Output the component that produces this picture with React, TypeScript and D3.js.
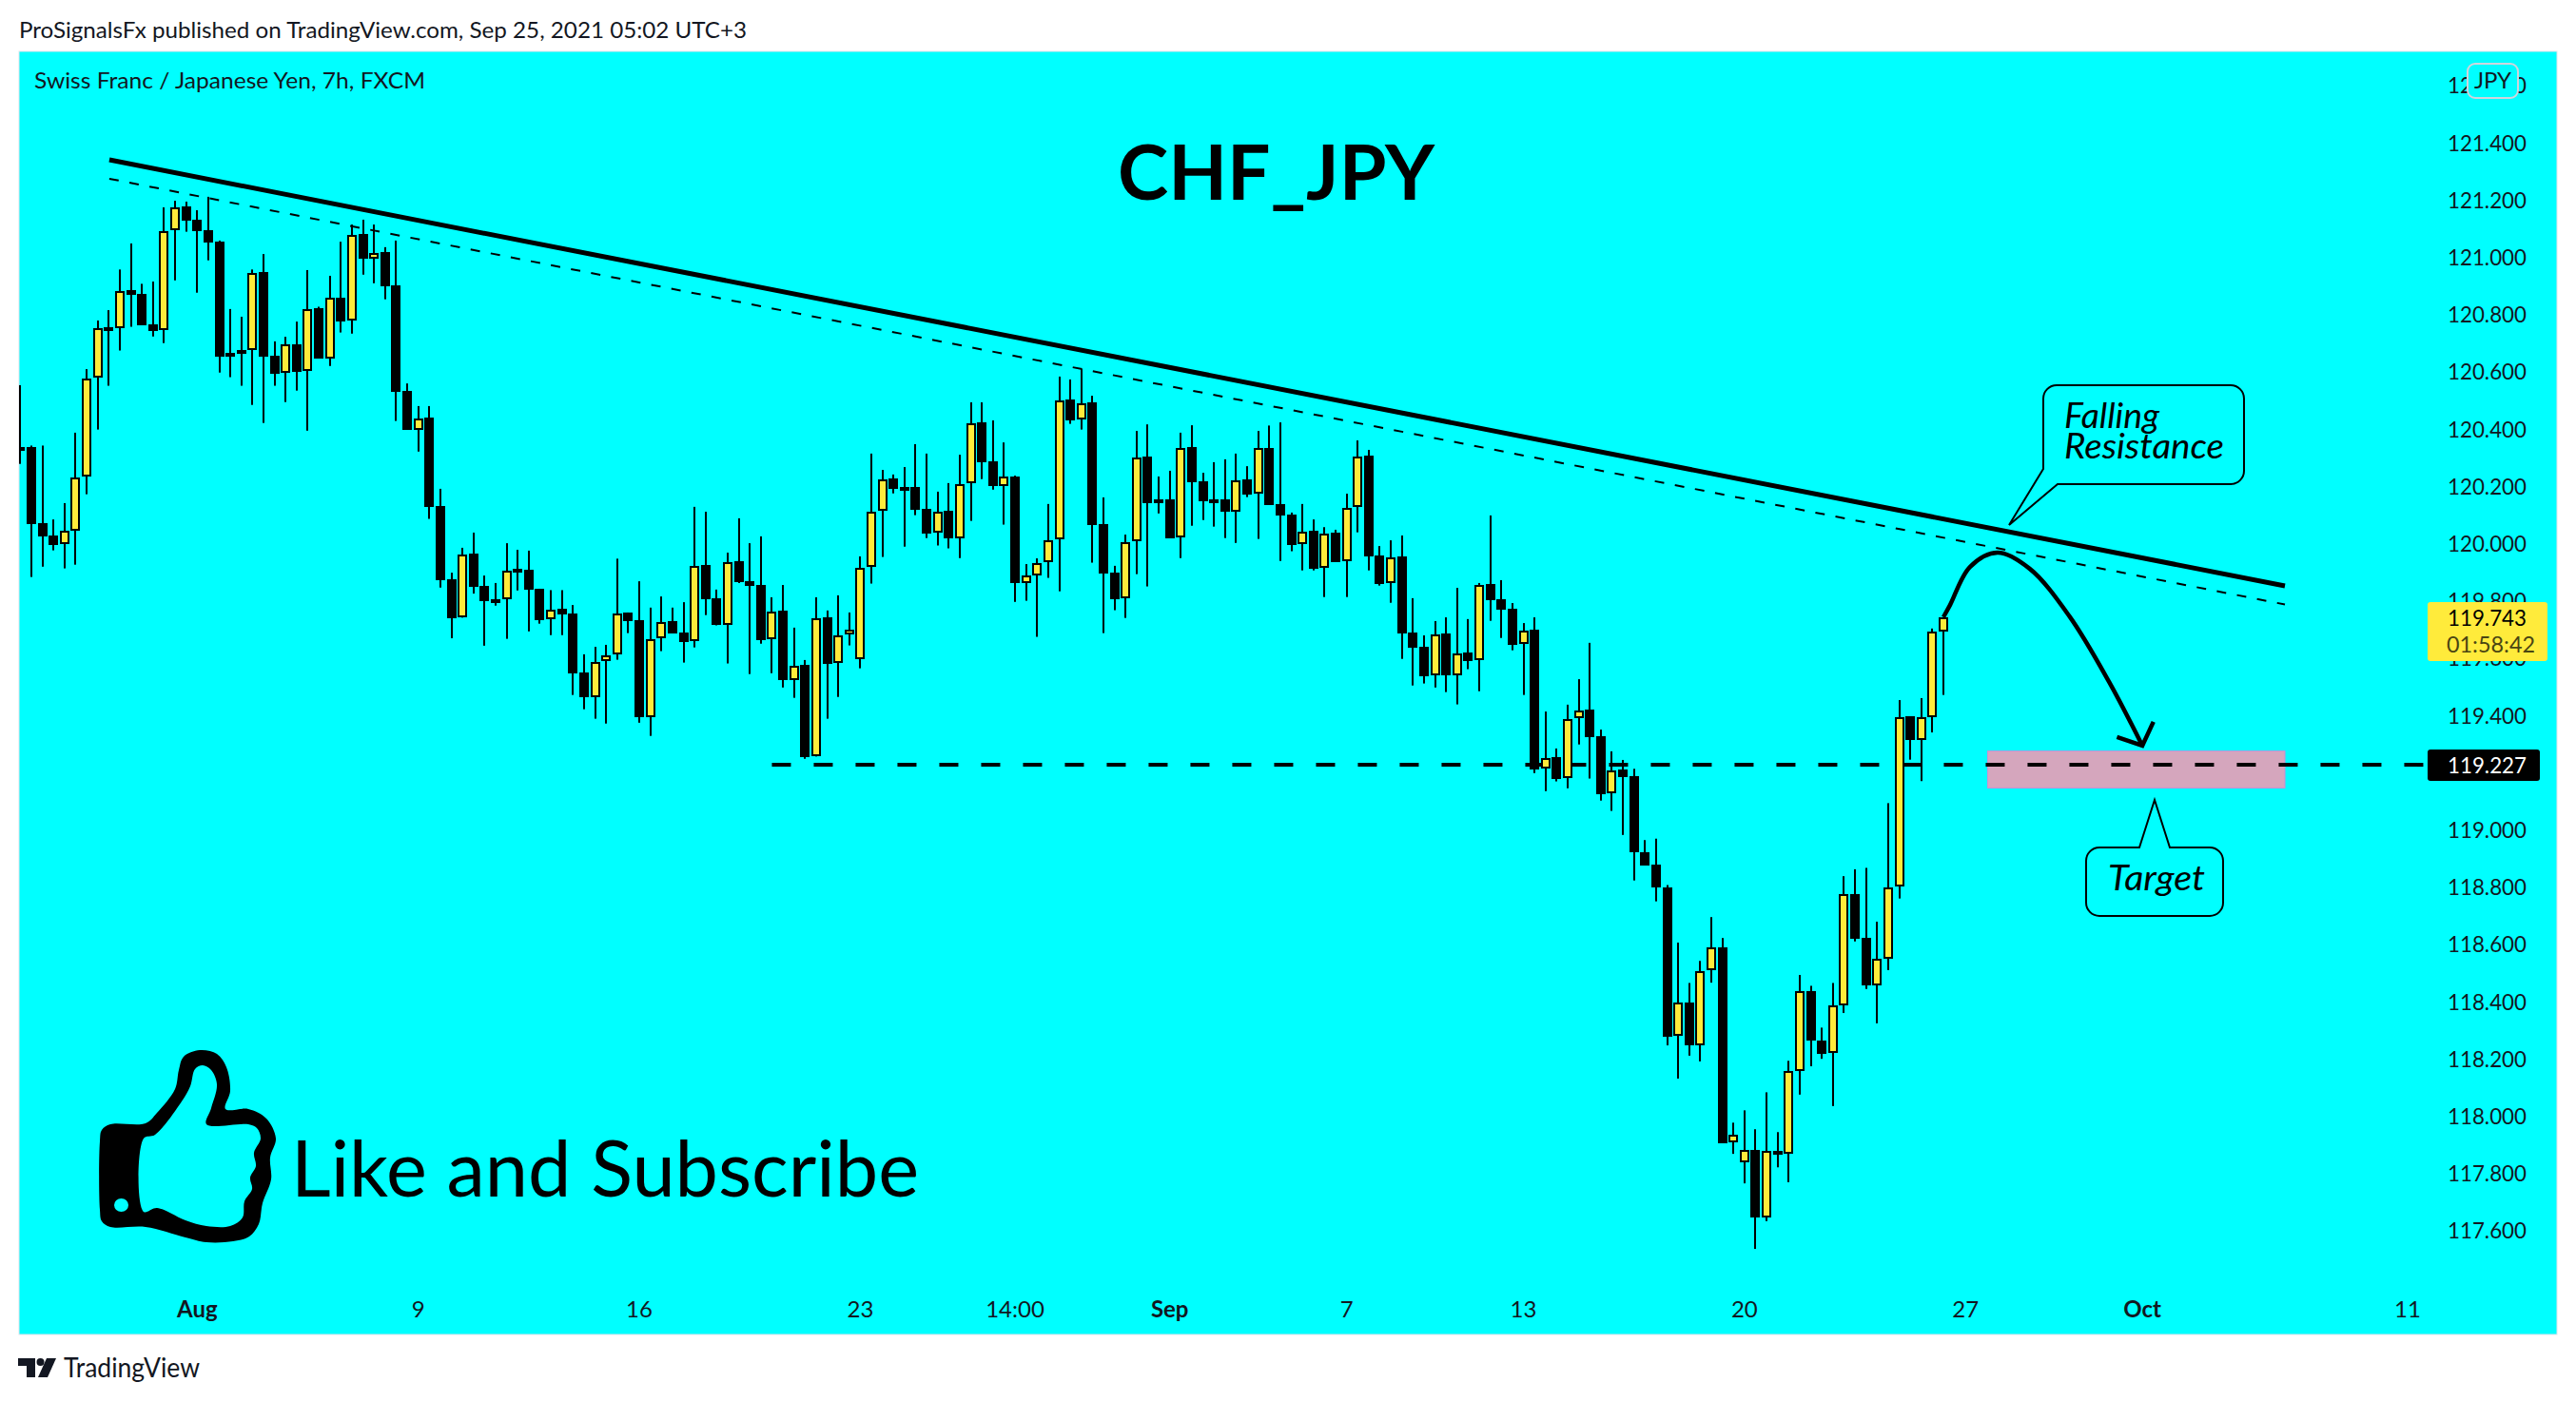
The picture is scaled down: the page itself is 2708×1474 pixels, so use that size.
import React from "react";
import * as d3 from "d3";

const opens = [120.337,120.337,120.071,120.027,119.997,120.043,120.233,120.578,120.755,120.751,120.884,120.871,120.764,120.744,121.093,121.176,121.130,121.093,121.054,120.665,120.675,120.675,120.947,120.656,120.595,120.695,120.602,120.822,120.647,120.857,120.778,121.080,120.996,121.017,120.901,120.532,120.398,120.439,120.130,119.874,119.741,119.964,119.851,119.804,119.804,119.911,119.907,119.841,119.734,119.771,
119.755,119.548,119.462,119.588,119.611,119.759,119.731,119.395,119.669,119.729,119.688,119.658,119.924,119.808,119.715,119.937,119.867,119.854,119.665,119.764,119.524,119.575,119.256,119.741,119.582,119.681,119.595,119.917,120.113,120.226,120.196,120.196,120.120,120.037,120.113,120.019,120.209,120.422,120.286,120.202,120.235,119.863,119.889,119.934,120.014,120.502,120.432,120.492,120.067,119.897,
119.808,120.007,120.302,120.153,120.153,120.020,120.336,120.216,120.153,120.153,120.112,120.224,120.173,120.334,120.136,120.101,119.997,120.045,119.914,120.038,119.937,120.126,120.306,119.958,119.861,119.955,119.688,119.638,119.538,119.685,119.538,119.618,119.592,119.857,119.804,119.772,119.648,119.698,119.213,119.253,119.180,119.389,119.419,119.326,119.127,119.210,119.186,118.920,118.877,118.800,
118.279,118.397,118.247,118.508,118.590,117.907,117.837,117.882,117.646,117.879,117.870,118.159,118.437,118.265,118.220,118.388,118.776,118.621,118.457,118.550,118.801,119.396,119.312,119.392,119.691];

const highs = [120.553,120.342,120.342,120.084,120.141,120.387,120.609,120.779,120.815,120.957,121.048,120.907,120.915,121.174,121.197,121.194,121.164,121.211,121.058,120.819,120.792,120.957,121.011,120.706,120.722,120.775,120.955,120.827,120.935,121.054,121.114,121.131,121.114,121.035,121.058,120.559,120.480,120.480,120.191,119.898,119.985,120.038,119.888,119.862,120.001,119.978,119.975,119.842,119.837,119.837,
119.785,119.613,119.639,119.646,119.947,119.759,119.868,119.776,119.815,119.776,119.795,120.128,120.111,119.839,119.968,120.088,120.001,120.025,119.812,119.855,119.706,119.593,119.812,119.766,119.819,119.759,119.955,120.314,120.257,120.241,120.267,120.347,120.314,120.181,120.211,120.310,120.493,120.493,120.430,120.353,120.237,119.928,119.948,120.138,120.583,120.573,120.609,120.516,120.161,119.922,
120.031,120.393,120.416,120.234,120.254,120.387,120.413,120.247,120.284,120.294,120.314,120.270,120.393,120.412,120.423,120.108,120.138,120.084,120.057,120.048,120.174,120.360,120.327,119.991,120.011,120.028,119.809,119.679,119.729,119.742,119.845,119.736,119.862,120.098,119.872,119.792,119.722,119.742,119.413,119.284,119.437,119.526,119.653,119.350,119.274,119.244,119.213,118.964,118.969,118.807,
118.606,118.465,118.542,118.695,118.622,117.977,118.020,117.954,118.083,117.944,118.193,118.493,118.455,118.309,118.465,118.838,118.862,118.867,118.679,119.093,119.453,119.396,119.460,119.703,119.743];

const lows = [120.278,119.883,119.919,119.976,119.913,119.926,120.172,120.398,120.551,120.674,120.757,120.763,120.723,120.700,120.919,121.089,120.876,120.989,120.597,120.581,120.551,120.484,120.421,120.551,120.494,120.534,120.394,120.647,120.620,120.737,120.733,120.939,120.909,120.853,120.428,120.398,120.321,120.086,119.846,119.669,119.741,119.825,119.643,119.783,119.667,119.836,119.693,119.720,119.680,119.680,
119.471,119.421,119.388,119.371,119.594,119.687,119.374,119.328,119.624,119.687,119.584,119.637,119.750,119.714,119.581,119.862,119.544,119.650,119.547,119.497,119.461,119.248,119.256,119.388,119.464,119.644,119.564,119.860,119.953,120.175,119.989,120.099,120.019,119.993,119.983,119.949,120.079,120.225,120.188,120.066,119.796,119.800,119.674,119.880,119.833,120.418,120.398,119.933,119.687,119.767,
119.740,119.893,119.850,120.105,120.019,119.949,120.062,120.082,120.059,120.019,120.002,120.162,120.016,120.135,119.939,119.973,119.906,119.906,119.813,119.936,119.813,120.039,119.906,119.853,119.793,119.597,119.504,119.511,119.497,119.481,119.438,119.561,119.484,119.730,119.670,119.627,119.471,119.198,119.135,119.169,119.145,119.298,119.179,119.102,119.066,118.982,118.823,118.876,118.750,118.247,
118.131,118.211,118.191,118.466,117.905,117.868,117.765,117.536,117.633,117.821,117.769,118.075,118.174,118.200,118.035,118.360,118.610,118.444,118.324,118.510,118.760,119.245,119.170,119.340,119.471];

const closes = [120.326,120.069,120.026,119.996,120.043,120.232,120.577,120.753,120.750,120.883,120.870,120.763,120.743,121.092,121.175,121.129,121.092,121.052,120.654,120.654,120.664,120.946,120.654,120.594,120.695,120.600,120.820,120.647,120.857,120.777,121.079,120.996,121.016,120.899,120.531,120.398,120.438,120.129,119.873,119.740,119.963,119.850,119.800,119.800,119.906,119.904,119.840,119.733,119.770,119.753,
119.547,119.462,119.587,119.610,119.757,119.730,119.394,119.667,119.727,119.687,119.657,119.923,119.806,119.714,119.936,119.866,119.853,119.664,119.763,119.524,119.574,119.255,119.740,119.581,119.680,119.700,119.916,120.112,120.225,120.192,120.192,120.119,120.036,120.112,120.019,120.208,120.421,120.285,120.202,120.235,119.863,119.889,119.933,120.012,120.501,120.431,120.491,120.066,119.896,119.806,
120.006,120.301,120.142,120.142,120.019,120.335,120.215,120.149,120.149,120.112,120.222,120.172,120.332,120.135,120.099,119.996,120.042,119.913,120.036,119.936,120.125,120.305,119.956,119.860,119.953,119.687,119.637,119.537,119.684,119.538,119.617,119.591,119.856,119.803,119.770,119.647,119.697,119.212,119.252,119.179,119.388,119.418,119.325,119.125,119.208,119.185,118.920,118.876,118.800,118.278,
118.396,118.247,118.506,118.589,117.905,117.934,117.881,117.646,117.878,117.870,118.158,118.436,118.264,118.218,118.386,118.775,118.619,118.457,118.549,118.800,119.394,119.312,119.392,119.691,119.743];

const priceTicks = [121.6,121.4,121.2,121.0,120.8,120.6,120.4,120.2,120.0,119.8,119.6,119.4,119.0,118.8,118.6,118.4,118.2,118.0,117.8,117.6];
const timeLabels = ["Aug","9","16","23","14:00","Sep","7","13","20","27","Oct","11"];
const timeBars = [16,36,56,76,90,104,120,136,156,176,192,216];
const boldLabels = ["Aug","Sep","Oct"];

const resistanceBars = [8.05,204.9];
const resistancePrices = [121.34,119.852];
const parallelPrices = [121.274,119.787];
const targetPrice = 119.227;
const lastPrice = 119.743;
const targetZoneBars = [178,204.9];
const targetZonePrices = [119.275,119.146];
const curveBars = [174,174.6,176.4,178.9,181.8,185.4,189,192];
const curvePrices = [119.743,119.785,119.918,119.968,119.912,119.746,119.516,119.294];
const headBars = [189.7,192,193];
const headPrices = [119.324,119.294,119.377];

const FONT = "Lato, 'Noto Sans', sans-serif";
const INK = "#131722";

const x = d3.scaleLinear().domain([0, 174]).range([21.4, 2043]);
const y = d3.scaleLinear().domain([121.4, 117.6]).range([150, 1293.8]);
const fmt = d3.format(".3f");

function T({ x: px, y: py, len, size, fill = INK, weight = 400, italic = false, anchor = "start", children }: any) {
  return (
    <text x={px} y={py} fontFamily={FONT} fontSize={size} fill={fill} fontWeight={weight}
      fontStyle={italic ? "italic" : "normal"} textAnchor={anchor}
      textLength={len} lengthAdjust={len ? "spacingAndGlyphs" : undefined}>
      {children}
    </text>
  );
}

const thumbOuter: [number, number][] = [[105,1200],[107,1188],[116,1182],[153,1181],[165,1170],[184,1145],[188,1125],[193,1111],[210,1104],[228,1108],[238,1122],[242,1147],[237,1166],[261,1166],[280,1176],[290,1197],[284,1217],[285,1240],[276,1265],[272,1287],[262,1300],[245,1305],[217,1306],[195,1301],[153,1290],[116,1290],[107,1284],[105,1272]];
const thumbInner: [number, number][] = [[151,1197],[163,1193],[191,1158],[200,1142],[205,1124],[213,1120],[222,1125],[228,1140],[222,1165],[217,1182],[261,1182],[270,1186],[274,1197],[267,1212],[269,1226],[263,1238],[265,1250],[257,1263],[255,1280],[242,1289],[217,1289],[195,1283],[165,1270],[151,1274]];

export default function App() {
  const n = opens.length;
  const solid = d3.line<number>().x((b) => x(b)).y((_, i) => y(resistancePrices[i]))(resistanceBars)!;
  const dashed = d3.line<number>().x((b) => x(b)).y((_, i) => y(parallelPrices[i]))(resistanceBars)!;
  const curve = d3.line<number>().x((b) => x(b)).y((_, i) => y(curvePrices[i])).curve(d3.curveCatmullRom)(curveBars)!;
  const head = d3.line<number>().x((b) => x(b)).y((_, i) => y(headPrices[i]))(headBars)!;
  const closedLine = d3.line().curve(d3.curveCatmullRomClosed.alpha(0.5));
  const thumb = closedLine(thumbOuter)! + closedLine(thumbInner)!;

  return (
    <svg width={2708} height={1474} style={{ position: "absolute", left: 0, top: 0, display: "block", background: "#fff" }}>
      <defs>
        <clipPath id="plot"><rect x={20} y={54} width={2668} height={1349} /></clipPath>
      </defs>
      <T x={20} y={40} size={24} len={765}>ProSignalsFx published on TradingView.com, Sep 25, 2021 05:02 UTC+3</T>
      <rect x={20} y={54} width={2668} height={1349} fill="#00ffff" stroke="#e0e3eb" strokeWidth={1} />
      <T x={36} y={93} size={24} len={411}>Swiss Franc / Japanese Yen, 7h, FXCM</T>

      <T x={1175} y={210} size={81} len={333} weight={700} fill="#000">CHF_JPY</T>
      <T x={306} y={1258} size={81} len={660} fill="#000">Like and Subscribe</T>
      <path d={thumb} fill="#000" fillRule="evenodd" />
      <ellipse cx={127.5} cy={1267} rx={7.5} ry={7} fill="#00ffff" />

      <g clipPath="url(#plot)">
        <rect x={x(targetZoneBars[0])} y={y(targetZonePrices[0])} width={x(targetZoneBars[1]) - x(targetZoneBars[0])}
          height={y(targetZonePrices[1]) - y(targetZonePrices[0])} fill="#d5a6bd" stroke="#c98fd6" strokeWidth={1} />
        <line x1={x(68)} x2={2552} y1={y(targetPrice)} y2={y(targetPrice)} stroke="#000" strokeWidth={4} strokeDasharray="20 24" />
        {d3.range(n).map((i) => {
          const cx = Math.round(x(i));
          const up = closes[i] >= opens[i];
          const top = Math.round(y(Math.max(opens[i], closes[i])));
          const bot = Math.round(y(Math.min(opens[i], closes[i])));
          const h = Math.max(bot - top, 4);
          return (
            <g key={i}>
              <rect x={cx - 1} width={2} y={y(highs[i])} height={y(lows[i]) - y(highs[i])} fill="#000" />
              {up
                ? <rect x={cx - 4} y={top + 1} width={8} height={Math.max(h - 2, 2)} fill="#ffeb3b" stroke="#000" strokeWidth={2} />
                : <rect x={cx - 5} y={top} width={10} height={h} fill="#000" />}
            </g>
          );
        })}
        <path d={solid} stroke="#000" strokeWidth={5} fill="none" />
        <path d={dashed} stroke="#000" strokeWidth={2} strokeDasharray="10 11.5" fill="none" />
        <path d={curve} stroke="#000" strokeWidth={4.5} fill="none" />
        <path d={head} stroke="#000" strokeWidth={4.5} fill="none" />
      </g>

      <path d="M2162,405 H2345 A14,14 0 0 1 2359,419 V495 A14,14 0 0 1 2345,509 H2163 L2112,552 L2148,493 V419 A14,14 0 0 1 2162,405 Z" fill="none" stroke="#000" strokeWidth={2} />
      <T x={2170} y={450} size={36} len={100} italic fill="#000">Falling</T>
      <T x={2170} y={482} size={36} len={168} italic fill="#000">Resistance</T>
      <path d="M2207,891 H2249 L2265,841 L2281,891 H2323 A14,14 0 0 1 2337,905 V949 A14,14 0 0 1 2323,963 H2207 A14,14 0 0 1 2193,949 V905 A14,14 0 0 1 2207,891 Z" fill="none" stroke="#000" strokeWidth={2} />
      <T x={2216} y={936} size={36} len={102} italic fill="#000">Target</T>

      {priceTicks.map((p) => (
        <T key={p} x={2573} y={y(p) + 8.5} size={24} len={83}>{fmt(p)}</T>
      ))}
      {timeLabels.map((l, i) => {
        const bold = boldLabels.includes(l);
        return (
          <T key={l} x={x(timeBars[i])} y={1385} size={24} anchor="middle" weight={bold ? 700 : 400}>{l}</T>
        );
      })}

      <rect x={2552} y={633} width={126} height={62} rx={3} fill="#ffeb3b" />
      <T x={2573} y={658} size={24} len={83} fill="#000">{fmt(lastPrice)}</T>
      <T x={2572} y={686} size={24} len={93} fill="#4a4512">01:58:42</T>
      <rect x={2552} y={788} width={118} height={33} rx={3} fill="#000" />
      <T x={2573} y={813} size={24} len={83} fill="#fff">{fmt(targetPrice)}</T>

      <rect x={2594} y={67} width={53} height={36} rx={8} fill="#00ffff" stroke="#d1d4dc" strokeWidth={2} />
      <T x={2620.5} y={93} size={24} anchor="middle">JPY</T>

      <g fill={INK}>
        <path d="M19,1428 H37 V1448 H28 V1436 H19 Z" />
        <circle cx={42.5} cy={1432} r={4} />
        <path d="M49,1428 H59 L50,1448 H40 Z" />
      </g>
      <T x={67} y={1448} size={28} len={143}>TradingView</T>
    </svg>
  );
}
